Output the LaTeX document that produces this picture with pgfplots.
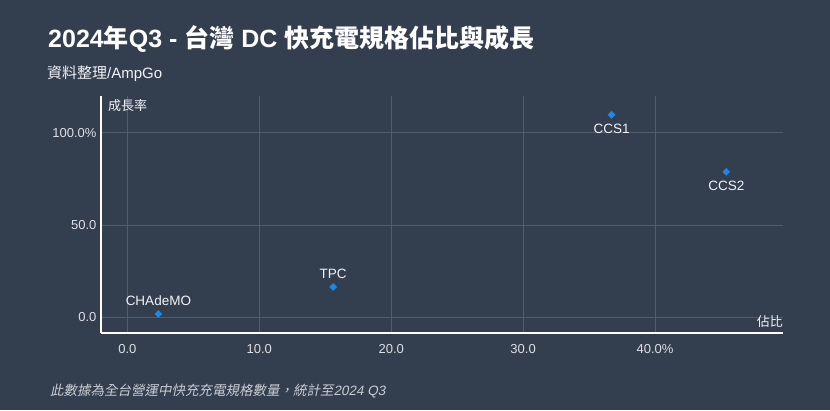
\documentclass[border=0pt]{standalone}
\usepackage{pgfplots}
\pgfplotsset{compat=1.18}
\usepackage{pgfplotstable}
\usepackage{fontspec}
\setmainfont{Liberation Sans}
\newfontfamily\cjk{Noto Sans CJK TC}
\newfontfamily\cjkit[FakeSlant=0.2]{Noto Sans CJK TC}
\newfontfamily\latit{Liberation Sans}[FakeSlant=0.2]
\definecolor{bg}{HTML}{333E4F}
\definecolor{gridc}{HTML}{525D6C}
\definecolor{tickc}{HTML}{DDE0E4}
\definecolor{txt}{HTML}{F2F3F5}
\definecolor{foot}{HTML}{C9CDD3}
\definecolor{mk}{HTML}{1E88E5}

\pgfplotstableread{
x y label
2.35 1.6 CHAdeMO
15.6 16.3 TPC
}\above
\pgfplotstableread{
x y label
36.7 109.8 CCS1
45.4 78.8 CCS2
}\below

\begin{document}
\begin{tikzpicture}
\fill[bg] (0pt,0pt) rectangle (830pt,410pt);
\node[anchor=base west, inner sep=0, text=white, font=\fontsize{25}{28}\selectfont\bfseries] at (48pt,362pt) {2024{\cjk 年}Q3 - {\cjk 台灣} DC {\cjk 快充電規格佔比與成長}};
\node[anchor=base west, inner sep=0, text=txt, font=\fontsize{15}{18}\selectfont] at (47pt,331pt) {{\cjk 資料整理}/AmpGo};
\node[anchor=base west, inner sep=0, text=foot, font=\fontsize{13.5}{16}\selectfont] at (50pt,15pt) {{\cjkit 此數據為全台營運中快充充電規格數量，統計至}{\latit 2024 Q3}};
\begin{axis}[
  at={(101pt,77pt)}, anchor=south west,
  scale only axis, width=682pt, height=237pt,
  xmin=-2, xmax=49.7, ymin=-8.7, ymax=120,
  axis x line*=bottom, axis y line*=left,
  axis line style={white, line width=1.3pt, -},
  xtick={0,10,20,30,40}, xticklabels={0.0,10.0,20.0,30.0,40.0\%},
  ytick={0,50,100}, yticklabels={0.0,50.0,100.0\%},
  major tick length=0pt,
  grid=major, grid style={gridc, line width=0.8pt},
  ticklabel style={text=tickc, font=\fontsize{13}{15}\selectfont},
  xticklabel style={yshift=-8pt},
  yticklabel style={xshift=-1pt},
  clip=false,
]
\addplot[only marks, mark=square*, mark size=2.5pt, color=mk,
  every mark/.append style={rotate=45},
  point meta=explicit symbolic, nodes near coords,
  every node near coord/.append style={anchor=south, yshift=5pt, text=txt, font=\fontsize{13.5}{15}\selectfont}]
  table[x=x, y=y, meta=label] {\above};
\addplot[only marks, mark=square*, mark size=2.5pt, color=mk,
  every mark/.append style={rotate=45},
  point meta=explicit symbolic, nodes near coords,
  every node near coord/.append style={anchor=north, yshift=-6pt, text=txt, font=\fontsize{13.5}{15}\selectfont}]
  table[x=x, y=y, meta=label] {\below};
\node[anchor=north west, text=txt, font=\cjk\fontsize{13}{15}\selectfont, inner sep=0] at (rel axis cs:0,1) [xshift=7pt, yshift=-3pt] {成長率};
\node[anchor=south east, text=txt, font=\cjk\fontsize{13}{15}\selectfont, inner sep=0] at (rel axis cs:1,0) [yshift=5pt] {佔比};
\end{axis}
\end{tikzpicture}
\end{document}
